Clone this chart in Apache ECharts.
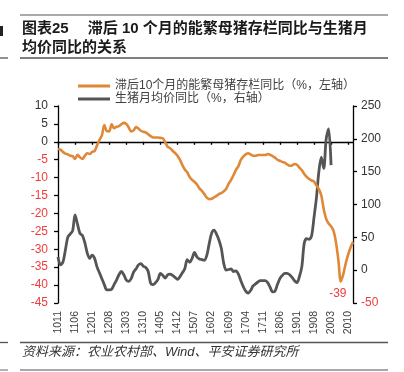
<!DOCTYPE html>
<html>
<head>
<meta charset="utf-8">
<script src="https://cdn.jsdelivr.net/npm/echarts@6/dist/echarts.min.js"></script>
<style>
html,body{margin:0;padding:0;background:#fff;}
#c{width:404px;height:372px;}
</style>
</head>
<body>
<div id="c"></div>
<script>
// months from 2010-11 to 2020-12 (YYMM labels)
var startYear = 10, startMonth = 11, monthCount = 122;
var categories = [];
(function(){
  var y = startYear, m = startMonth;
  for (var k = 0; k < monthCount; k++) {
    categories.push(String(y).padStart(2,'0') + String(m).padStart(2,'0'));
    m++; if (m > 12) { m = 1; y++; }
  }
})();

var sowSeriesName = '滞后10个月的能繁母猪存栏同比（%，左轴）';
var hogSeriesName = '生猪月均价同比（%，右轴）';

// lagged sow inventory YoY (%, left axis)
var sowYoY = [
  -2.0,-2.2,-2.8,-3.3,-3.5,-3.9,-4.0,-4.8,-3.6,-4.3,
  -4.8,-3.9,-3.2,-3.4,-2.8,-2.6,-1.0,0.5,1.8,4.7,
  3.0,2.9,4.9,3.8,4.2,4.4,4.9,5.3,5.0,4.0,
  2.9,3.2,4.1,3.7,3.1,2.8,2.6,2.1,1.6,1.2,
  1.2,1.2,1.1,1.0,-0.2,-1.4,-1.8,-2.5,-3.1,-3.9,
  -5.0,-6.5,-7.7,-8.5,-9.8,-10.6,-11.2,-11.9,-13.0,-13.7,
  -14.6,-15.6,-16.0,-15.9,-15.5,-15.1,-14.6,-14.3,-13.8,-13.1,
  -11.7,-10.6,-9.3,-7.8,-6.8,-5.0,-4.1,-3.5,-3.2,-3.5,
  -3.9,-3.9,-3.7,-3.7,-3.7,-3.7,-3.4,-3.6,-4.0,-4.4,
  -5.0,-5.3,-5.6,-5.8,-6.3,-6.7,-6.6,-6.2,-6.4,-7.2,
  -7.9,-9.0,-9.8,-10.4,-10.8,-11.1,-12.2,-13.2,-15.0,-18.8,
  -21.5,-22.8,-23.6,-24.8,-28.0,-33.0,-39.0,-37.0,-34.0,-31.5,
  -29.5,-28.0
];

// hog monthly average price YoY (%, right axis)
var hogYoY = [
  20,8,12,30,50,55,60,84,70,56,
  53,42,26,18,23,18,5,-4,-13,-22,
  -30,-30,-29,-22,-15,-7,-2,-7,-15,-17,
  -13,-3,2,8,10,6,4,-2,-20,-22,
  -19,-14,-5,-8,-12,-7,-6,-8,-11,-14,
  -10,-4,2,16,12,18,27,20,17,16,
  15,22,40,56,61,55,46,33,10,0,
  1,2,-2,-1,-6,-16,-25,-32,-35,-31,
  -24,-21,-18,-16,-16,-16,-19,-26,-33,-32,
  -22,-13,-8,-5,-5,-7,-11,-16,-19,-10,
  5,41,48,47,52,80,110,150,172,155,
  200,215,160,null,null,null,null,null,null,null,
  null,null
];

var leftTicks = {min: -45, max: 10, step: 5};
var rightTicks = {min: -50, max: 250, step: 50};
var annotatedLabel = '-39';

var chart = echarts.init(document.getElementById('c'), null, {renderer: 'canvas'});

var minIdx = 0;
for (var i = 1; i < sowYoY.length; i++) if (sowYoY[i] < sowYoY[minIdx]) minIdx = i;

var FONT = 'Liberation Sans, Arial, Noto Sans CJK SC, sans-serif';
var CJK = 'Liberation Sans, Noto Sans CJK SC, sans-serif';
var RED = '#F03C3C';

var option = {
  animation: false,
  backgroundColor: '#fff',
  title: {
    text: '图表25\u3000 滞后 10 个月的能繁母猪存栏同比与生猪月\n均价同比的关系',
    left: 22, top: 19, padding: 0,
    textStyle: {fontSize: 15, fontWeight: 'bold', color: '#1a1a1a', fontFamily: CJK, lineHeight: 19}
  },
  legend: {
    orient: 'vertical', left: 78, top: 80, padding: 0,
    itemWidth: 32, itemHeight: 3, itemGap: 1, icon: 'rect',
    textStyle: {fontSize: 12, color: '#404040', fontFamily: CJK},
    data: [sowSeriesName, hogSeriesName]
  },
  grid: {left: 58, right: 51, top: 106, bottom: 69, containLabel: false},
  xAxis: [{
    type: 'category', data: categories, boundaryGap: false,
    axisLine: {show: false, onZero: false},
    axisTick: {show: false},
    axisLabel: {interval: 6, rotate: 90, fontSize: 10.5, color: '#404040', margin: 8, fontFamily: FONT}
  }, {
    type: 'category', data: categories, boundaryGap: false, position: 'bottom',
    axisLine: {show: true, onZero: true, onZeroAxisIndex: 0, lineStyle: {color: '#000', width: 1.3}},
    axisTick: {show: true, interval: 6, length: 3, lineStyle: {color: '#000', width: 1.3}},
    axisLabel: {show: false}
  }],
  yAxis: [{
    type: 'value', min: leftTicks.min, max: leftTicks.max, interval: leftTicks.step,
    axisLine: {show: true, lineStyle: {color: '#000', width: 1.3}},
    axisTick: {show: true, length: 4, lineStyle: {color: '#000', width: 1.3}},
    splitLine: {show: false},
    axisLabel: {fontSize: 12, margin: 10, fontFamily: FONT,
      color: function(v){ return Number(v) < 0 ? RED : '#333'; }}
  }, {
    type: 'value', position: 'right', min: rightTicks.min, max: rightTicks.max, interval: rightTicks.step,
    axisLine: {show: true, lineStyle: {color: '#000', width: 1.3}},
    axisTick: {show: true, length: 4, lineStyle: {color: '#000', width: 1.3}},
    splitLine: {show: false},
    axisLabel: {fontSize: 12, margin: 8, fontFamily: FONT,
      color: function(v){ return Number(v) < 0 ? RED : '#333'; }}
  }],
  series: [{
    name: sowSeriesName, type: 'line', xAxisIndex: 0, yAxisIndex: 0,
    data: sowYoY, showSymbol: false, symbol: 'none', smooth: 0.3,
    lineStyle: {color: '#DF8838', width: 2.6},
    itemStyle: {color: '#DF8838'}, z: 3,
    markPoint: {
      silent: true,
      symbol: 'circle', symbolSize: 1,
      itemStyle: {color: 'rgba(0,0,0,0)'},
      label: {show: true, position: 'bottom', distance: 6, formatter: annotatedLabel,
        color: RED, fontSize: 12, fontFamily: FONT, offset: [-3, 0]},
      data: [{coord: [minIdx, sowYoY[minIdx]], value: sowYoY[minIdx]}]
    }
  }, {
    name: hogSeriesName, type: 'line', xAxisIndex: 0, yAxisIndex: 1,
    data: hogYoY, showSymbol: false, symbol: 'none', smooth: 0.3,
    lineStyle: {color: '#555555', width: 2.8},
    itemStyle: {color: '#555555'}, z: 2
  }],
  graphic: [
    {type: 'line', shape: {x1: 20, y1: 15, x2: 388, y2: 15}, style: {stroke: '#8c8c8c', lineWidth: 1.3}},
    {type: 'line', shape: {x1: 20, y1: 58, x2: 388, y2: 58}, style: {stroke: '#555', lineWidth: 1.3}},
    {type: 'line', shape: {x1: 20, y1: 342.5, x2: 388, y2: 342.5}, style: {stroke: '#555', lineWidth: 1.3}},
    {type: 'line', shape: {x1: 20, y1: 370, x2: 388, y2: 370}, style: {stroke: '#8c8c8c', lineWidth: 1.3}},
    {type: 'line', shape: {x1: 0, y1: 342.5, x2: 8, y2: 342.5}, style: {stroke: '#555', lineWidth: 1.3}},
    {type: 'line', shape: {x1: 0, y1: 370, x2: 8, y2: 370}, style: {stroke: '#8c8c8c', lineWidth: 1.3}},
    {type: 'line', shape: {x1: 0, y1: 58, x2: 8, y2: 58}, style: {stroke: '#555', lineWidth: 1.3}},
    {type: 'rect', shape: {x: 0, y: 26, width: 3, height: 10}, style: {fill: '#222'}},
    {type: 'text', left: 22, top: 346,
      style: {text: '资料来源：农业农村部、Wind、平安证券研究所', fontSize: 13, fontStyle: 'italic',
        fill: '#333', fontFamily: CJK}}
  ]
};
chart.setOption(option);
</script>
</body>
</html>
